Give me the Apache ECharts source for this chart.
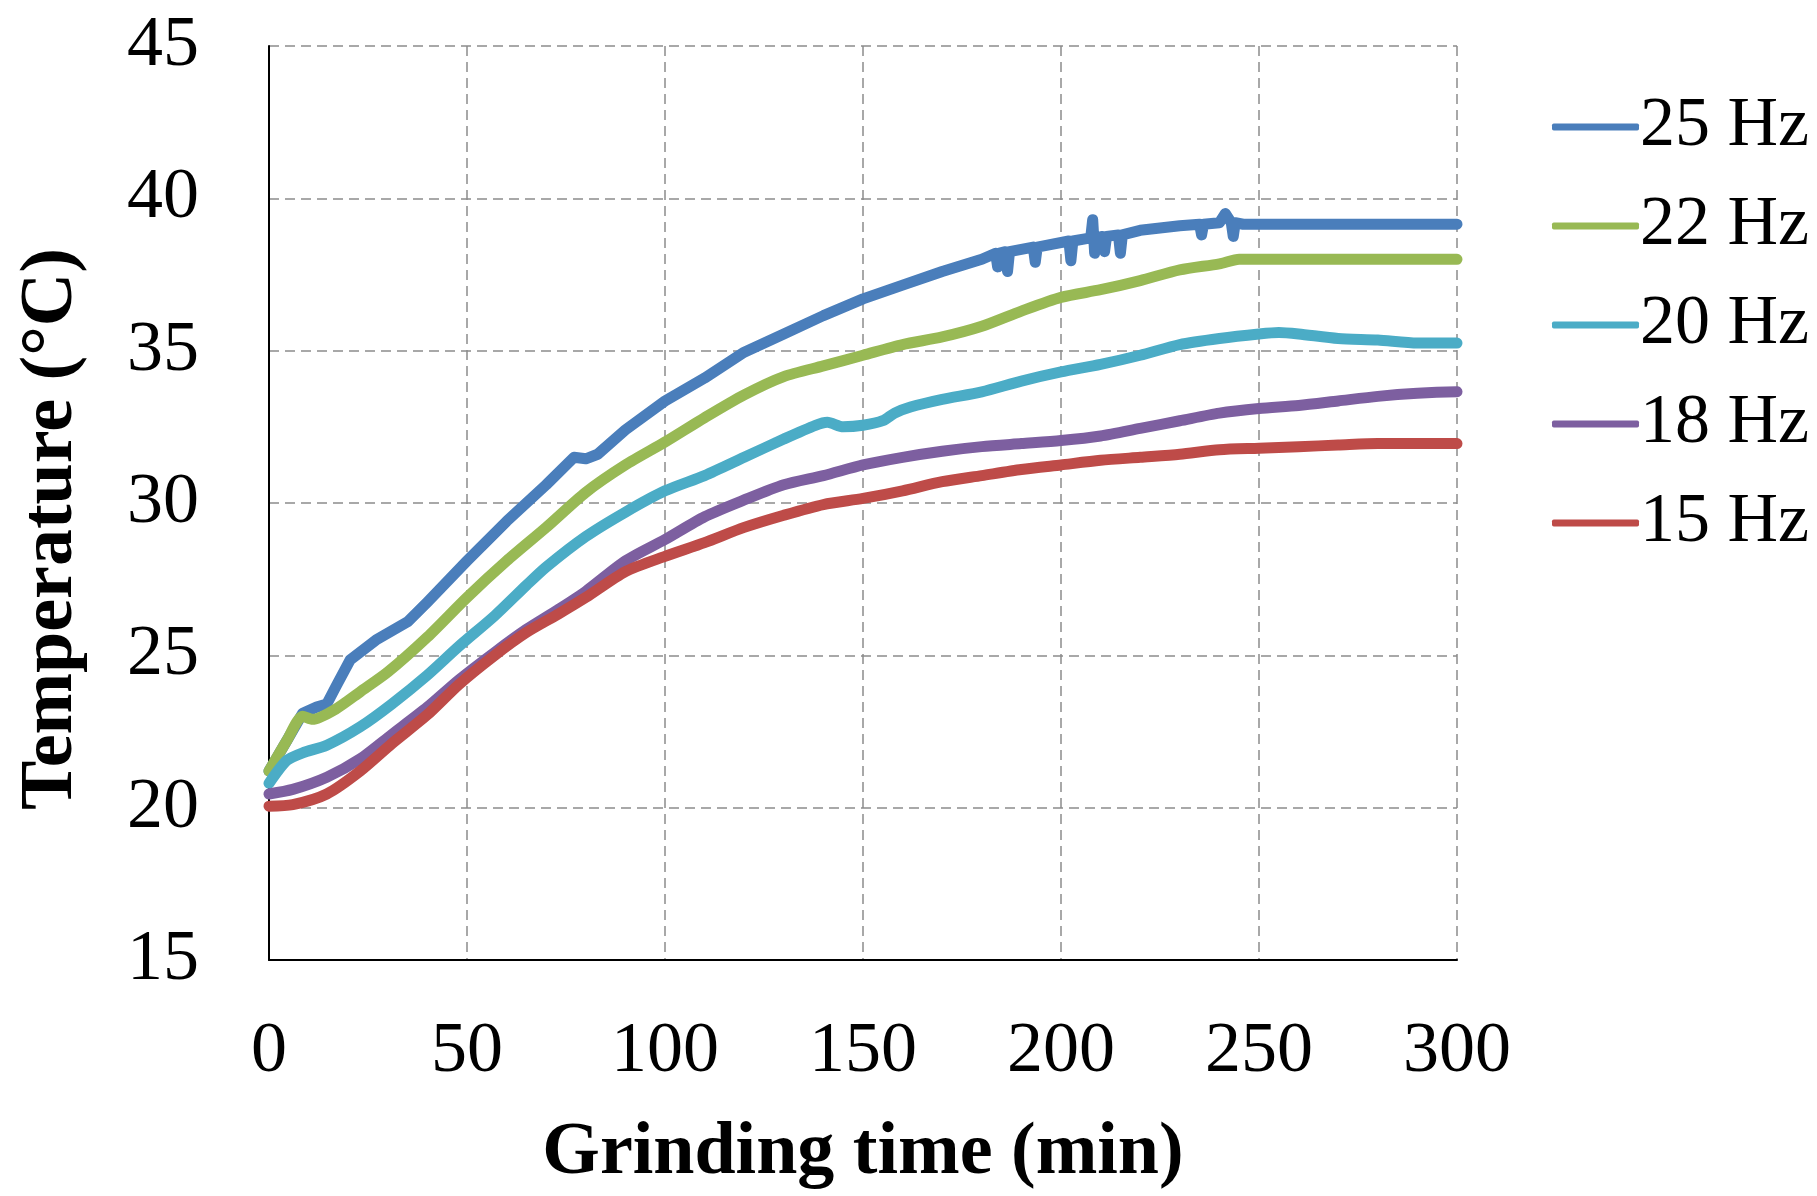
<!DOCTYPE html>
<html>
<head>
<meta charset="utf-8">
<script src="https://cdn.jsdelivr.net/npm/echarts@6/dist/echarts.min.js"></script>
<style>
  html, body { margin: 0; padding: 0; background: #fff; }
  #chart { width: 1817px; height: 1196px; }
</style>
</head>
<body>
<div id="chart"></div>
<script>
var seriesNames = ['25 Hz', '22 Hz', '20 Hz', '18 Hz', '15 Hz'];
var colors = ['#4A7EBB', '#98B954', '#4BACC6', '#7D5FA0', '#BE4B48'];
var xTicks = [0, 50, 100, 150, 200, 250, 300];
var yTicks = [15, 20, 25, 30, 35, 40, 45];

// 25 Hz (with the short spikes seen between 180 and 245 min)
var time25 = [0, 4.5, 8.5, 12, 14.6, 17, 20.5, 27, 35, 40, 50, 60, 70, 77, 80, 83, 90, 100, 110, 120, 130, 140, 150, 160, 170, 180,
  183.5, 184, 184.5, 186, 186.5, 187, 193, 193.5, 194, 202, 202.5, 203, 207.5, 208, 208.5, 209, 210.5, 211, 211.5,
  214.5, 215, 215.5, 220, 230, 235, 235.5, 236, 240, 241.5, 243, 243.5, 244, 246, 300];
var temp25 = [21.2, 22.2, 23.1, 23.3, 23.4, 24.0, 24.85, 25.5, 26.1, 26.75, 28.1, 29.4, 30.6, 31.5, 31.45, 31.6, 32.4, 33.35, 34.1, 34.95, 35.55, 36.15, 36.7, 37.15, 37.6, 38.0,
  38.2, 37.75, 38.2, 38.25, 37.6, 38.25, 38.4, 37.9, 38.4, 38.6, 37.95, 38.6, 38.7, 39.3, 38.2, 38.7, 38.75, 38.25, 38.75,
  38.8, 38.2, 38.8, 38.95, 39.1, 39.15, 38.8, 39.15, 39.2, 39.5, 39.2, 38.75, 39.2, 39.15, 39.15];

// 22 Hz
var time22 = [0, 4.5, 8.5, 11, 17, 23, 30, 40, 50, 60, 70, 80, 90, 100, 110, 120, 130, 140, 150, 160, 170, 180, 190, 200, 210, 220, 230, 240, 245, 300];
var temp22 = [21.2, 22.2, 23.0, 22.9, 23.25, 23.8, 24.45, 25.6, 26.9, 28.1, 29.2, 30.35, 31.25, 32.0, 32.8, 33.55, 34.15, 34.5, 34.85, 35.2, 35.45, 35.8, 36.3, 36.75, 37.0, 37.3, 37.65, 37.85, 38.0, 38.0];

// 20 Hz
var time20 = [0, 4.5, 8.5, 14.6, 23, 31, 40, 48, 57, 65, 70, 80, 90, 100, 110, 120, 130, 138, 141, 145, 150, 155, 158, 162, 170, 180, 190, 200, 210, 220, 230, 240, 250, 255, 260, 270, 280, 290, 300];
var temp20 = [20.8, 21.55, 21.8, 22.05, 22.65, 23.4, 24.35, 25.3, 26.3, 27.3, 27.9, 28.9, 29.7, 30.4, 30.9, 31.5, 32.1, 32.55, 32.65, 32.5, 32.55, 32.7, 32.95, 33.15, 33.4, 33.65, 34.0, 34.3, 34.55, 34.85, 35.2, 35.4, 35.55, 35.6, 35.55, 35.4, 35.35, 35.25, 35.25];

// 18 Hz
var time18 = [0, 6, 14.6, 23, 31, 40, 48, 57, 65, 73, 80, 90, 100, 110, 120, 130, 140, 150, 160, 170, 180, 190, 200, 210, 220, 230, 240, 250, 260, 270, 280, 290, 300];
var temp18 = [20.45, 20.6, 21.0, 21.6, 22.4, 23.3, 24.2, 25.1, 25.85, 26.5, 27.1, 28.1, 28.8, 29.55, 30.1, 30.6, 30.9, 31.25, 31.5, 31.7, 31.85, 31.95, 32.05, 32.2, 32.45, 32.7, 32.95, 33.1, 33.2, 33.35, 33.5, 33.6, 33.65];

// 15 Hz
var time15 = [0, 6, 14.6, 23, 31, 40, 48, 57, 65, 73, 80, 90, 100, 110, 120, 130, 140, 150, 160, 170, 180, 190, 200, 210, 220, 230, 240, 250, 260, 270, 280, 300];
var temp15 = [20.05, 20.1, 20.45, 21.2, 22.1, 23.05, 24.05, 25.0, 25.75, 26.35, 26.9, 27.75, 28.25, 28.7, 29.2, 29.6, 29.95, 30.15, 30.4, 30.7, 30.9, 31.1, 31.25, 31.4, 31.5, 31.6, 31.75, 31.8, 31.85, 31.9, 31.95, 31.95];

var times = [time25, time22, time20, time18, time15];
var temps = [temp25, temp22, temp20, temp18, temp15];

function pairs(t, v) {
    return t.map(function (x, i) { return [x, v[i]]; });
}

var font = 'Liberation Serif';
var myChart = echarts.init(document.getElementById('chart'));

myChart.setOption({
    animation: false,
    color: colors,
    grid: {
        left: 269,
        right: 360,
        top: 46,
        bottom: 233
    },
    legend: {
        orient: 'vertical',
        left: 1547,
        top: 82,
        itemWidth: 87,
        itemHeight: 7,
        itemGap: 19,
        icon: 'roundRect',
        data: seriesNames,
        textStyle: {
            fontFamily: font,
            fontSize: 70,
            lineHeight: 80,
            color: '#000',
            padding: [0, 0, 0, -4]
        }
    },
    xAxis: {
        type: 'value',
        min: 0,
        max: 300,
        interval: 50,
        name: 'Grinding time (min)',
        nameLocation: 'middle',
        nameGap: 157,
        nameTextStyle: {
            fontFamily: font,
            fontSize: 74,
            fontWeight: 'bold',
            color: '#000'
        },
        axisLine: { lineStyle: { color: '#000', width: 2 } },
        axisTick: { show: false },
        axisLabel: {
            margin: 56,
            fontFamily: font,
            fontSize: 72,
            color: '#000',
            formatter: function (v) { return xTicks.indexOf(v) >= 0 ? String(v) : ''; }
        },
        splitLine: { lineStyle: { color: '#8c8c8c', type: [10, 6], width: 1.5 } }
    },
    yAxis: {
        type: 'value',
        min: 15,
        max: 45,
        interval: 5,
        name: 'Temperature (°C)',
        nameLocation: 'middle',
        nameGap: 180,
        nameTextStyle: {
            fontFamily: font,
            fontSize: 74,
            fontWeight: 'bold',
            color: '#000',
            padding: [0, 52, 0, 0]
        },
        axisLine: { show: true, lineStyle: { color: '#000', width: 2 } },
        axisTick: { show: false },
        axisLabel: {
            margin: 70,
            fontFamily: font,
            fontSize: 72,
            color: '#000',
            formatter: function (v) { return yTicks.indexOf(v) >= 0 ? String(v) : ''; }
        },
        splitLine: { lineStyle: { color: '#8c8c8c', type: [10, 6], width: 1.5 } }
    },
    series: seriesNames.map(function (name, i) {
        return {
            name: name,
            type: 'line',
            showSymbol: false,
            smooth: i === 0 ? false : 0.25,
            lineStyle: { width: 11, cap: 'round', join: 'round' },
            data: pairs(times[i], temps[i])
        };
    })
});
</script>
</body>
</html>
